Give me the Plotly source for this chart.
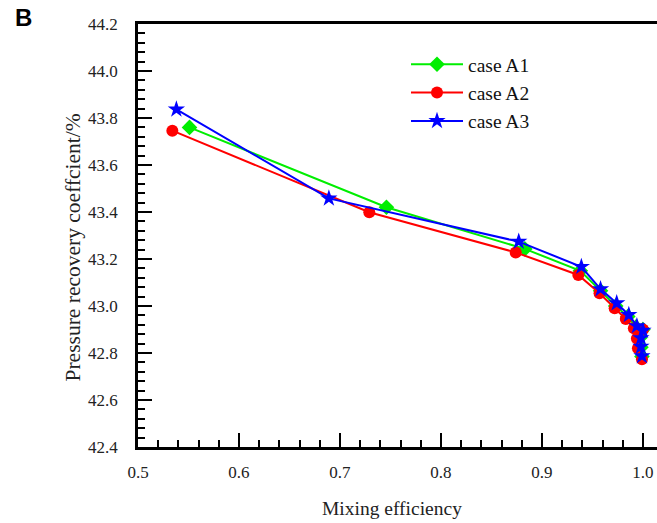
import plotly.graph_objects as go

# Mixing efficiency vs. pressure recovery coefficient for three cases
eff_a1 = [0.551, 0.746, 0.883, 0.938, 0.958, 0.973, 0.985, 0.993, 1.000, 0.997, 0.998, 0.999]
prc_a1 = [43.76, 43.42, 43.243, 43.15, 43.065, 43.00, 42.955, 42.91, 42.90, 42.865, 42.825, 42.785]

eff_a2 = [0.534, 0.729, 0.874, 0.936, 0.957, 0.972, 0.983, 0.991, 1.000, 0.994, 0.995, 0.999]
prc_a2 = [43.746, 43.399, 43.228, 43.132, 43.054, 42.99, 42.945, 42.905, 42.90, 42.862, 42.82, 42.773]

eff_a3 = [0.538, 0.689, 0.877, 0.939, 0.958, 0.974, 0.986, 0.994, 1.000, 0.998, 0.998, 0.999]
prc_a3 = [43.837, 43.458, 43.274, 43.167, 43.072, 43.012, 42.962, 42.915, 42.895, 42.864, 42.827, 42.787]

series = [
    ("case A1", eff_a1, prc_a1, "#00ee00", "diamond", 12),
    ("case A2", eff_a2, prc_a2, "#ff0000", "circle", 12),
    ("case A3", eff_a3, prc_a3, "#0000ff", "star", 13),
]

serif = "Liberation Serif, Times New Roman, serif"

fig = go.Figure()
for name, xs, ys, color, symbol, size in series:
    fig.add_trace(go.Scatter(
        x=xs, y=ys, name=name, mode="lines+markers",
        line=dict(color=color, width=2),
        marker=dict(color=color, symbol=symbol, size=size, line=dict(width=0)),
    ))

fig.update_layout(
    width=657, height=523,
    margin=dict(l=138, r=0, t=24, b=76),
    paper_bgcolor="white", plot_bgcolor="white",
    font=dict(family=serif, size=17, color="#222222"),
    showlegend=True,
    legend=dict(
        x=(406 - 138) / 519, y=1 - (45 - 24) / 423, xanchor="left", yanchor="top",
        bgcolor="rgba(0,0,0,0)", borderwidth=0,
        font=dict(family=serif, size=19.5, color="#111111"),
        itemwidth=52,
    ),
    xaxis=dict(
        range=[0.5, 1.0139], showgrid=False, zeroline=False,
        showline=True, linecolor="black", linewidth=2.5, mirror=True,
        tickmode="array", tickvals=[0.5, 0.6, 0.7, 0.8, 0.9, 1.0],
        ticktext=["0.5", "0.6", "0.7", "0.8", "0.9", "1.0"],
        ticks="inside", ticklen=14, tickwidth=1.5, tickcolor="black",
        minor=dict(dtick=0.02, ticks="inside", ticklen=7, tickwidth=1.5, tickcolor="black"),
        tickfont=dict(family=serif, size=17, color="#222222"),
        ticklabelstandoff=8,
    ),
    yaxis=dict(
        range=[42.4, 44.2], showgrid=False, zeroline=False,
        showline=True, linecolor="black", linewidth=2.5, mirror=False,
        tickmode="array", tickvals=[42.4, 42.6, 42.8, 43.0, 43.2, 43.4, 43.6, 43.8, 44.0, 44.2],
        ticktext=["42.4", "42.6", "42.8", "43.0", "43.2", "43.4", "43.6", "43.8", "44.0", "44.2"],
        ticks="inside", ticklen=14, tickwidth=1.5, tickcolor="black",
        minor=dict(dtick=0.04, ticks="inside", ticklen=7, tickwidth=1.5, tickcolor="black"),
        tickfont=dict(family=serif, size=17, color="#222222"),
        ticklabelstandoff=14,
    ),
    annotations=[
        dict(text="Mixing efficiency", xref="paper", yref="paper",
             x=(392 - 138) / 519, y=-(508 - 447) / 423, xanchor="center", yanchor="middle",
             showarrow=False, font=dict(family=serif, size=19.5, color="#222222")),
        dict(text="Pressure recovery coeffcient/%", xref="paper", yref="paper",
             x=-(138 - 72) / 519, y=(447 - 247.5) / 423, xanchor="center", yanchor="middle",
             textangle=-90,
             showarrow=False, font=dict(family=serif, size=21.5, color="#222222")),
        dict(text="<b>B</b>", xref="paper", yref="paper",
             x=-(138 - 23) / 519, y=1 + (24 - 18) / 423, xanchor="center", yanchor="middle",
             showarrow=False, font=dict(family="Liberation Sans, Arial, sans-serif", size=24, color="black")),
    ],
)

fig.write_html("out.html")
